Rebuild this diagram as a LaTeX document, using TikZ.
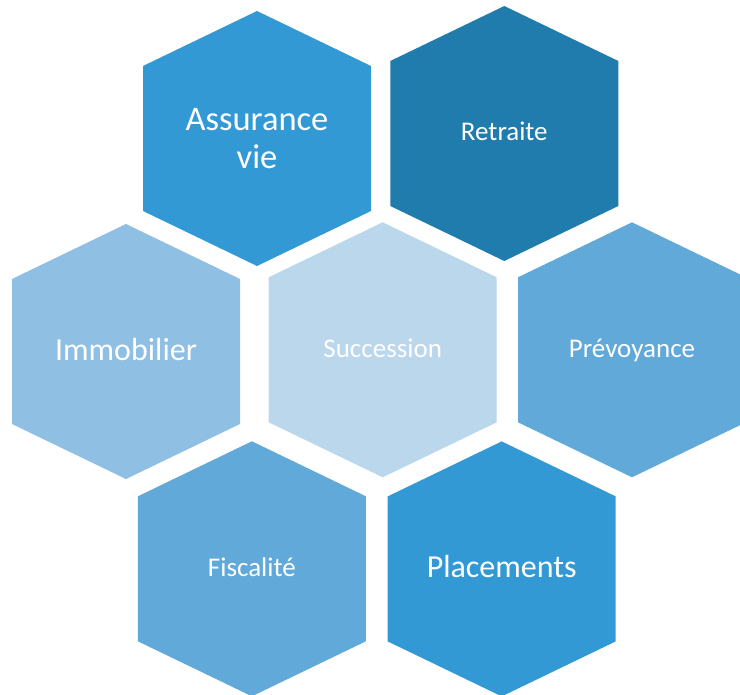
\documentclass[tikz,border=0pt]{standalone}
\usepackage{fontspec}
\setmainfont{Carlito}
\definecolor{cmid}{HTML}{3399D5}
\definecolor{cdark}{HTML}{217CAE}
\definecolor{clight}{HTML}{8FBFE3}
\definecolor{cpale}{HTML}{BBD7EC}
\definecolor{csoft}{HTML}{61A9D9}
\newcommand\hexcell[3]{%
  \fill[#3] (#1,#2) ++(0,-127.5) -- ++(114,55) -- ++(0,145) -- ++(-114,55) -- ++(-114,-55) -- ++(0,-145) -- cycle;}
\begin{document}
\begin{tikzpicture}[x=1pt,y=-1pt,
  lab/.style={text=white, align=center, inner sep=0pt},
  big/.style={font=\fontsize{34.5}{38}\selectfont},
  mid/.style={font=\fontsize{32}{36}\selectfont, text height=20.6pt, text depth=0pt},
  small/.style={font=\fontsize{27}{30}\selectfont, text height=17.4pt, text depth=0pt}]
\useasboundingbox (0,0) rectangle (740,695);
\fill[white] (0,0) rectangle (740,695);
\clip (0,0) rectangle (740,695);
\hexcell{257}{138.5}{cmid}
\hexcell{504.3}{133.5}{cdark}
\hexcell{126}{351.5}{clight}
\hexcell{382.7}{349.8}{cpale}
\hexcell{632}{349.8}{csoft}
\hexcell{251.9}{568.8}{csoft}
\hexcell{501.7}{568.9}{cmid}
\node[lab,big] (assur) at (257,139) {Assurance\\vie};
\node[lab,small] (retr) at (504.3,132.3) {Retraite};
\node[lab,mid] (immo) at (126,350.3) {Immobilier};
\node[lab,small] (succ) at (382.7,348.8) {Succession};
\node[lab,small] (prev) at (632,349.2) {Prévoyance};
\node[lab,small] (fisc) at (251.9,567.5) {Fiscalité};
\node[lab,mid] (plac) at (501.7,567.5) {Placements};
\end{tikzpicture}
\end{document}
